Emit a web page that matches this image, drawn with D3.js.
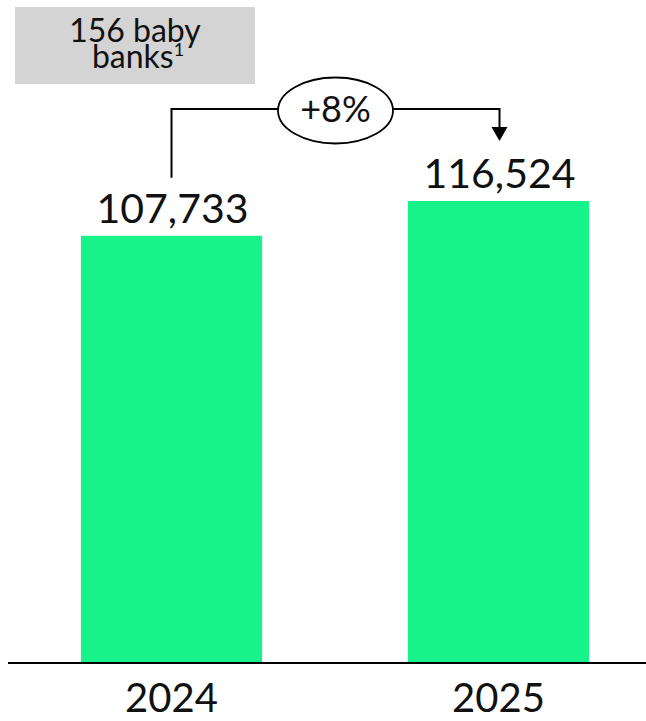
<!DOCTYPE html>
<html>
<head>
<meta charset="utf-8">
<script src="https://cdn.jsdelivr.net/npm/d3@7"></script>
<style>
  html, body { margin: 0; padding: 0; background: #ffffff; }
  svg { display: block; }
</style>
</head>
<body>
<div id="chart"></div>
<script>
// ---- data ----
const categories = ["2024", "2025"];
const values = [107733, 116524];
const growthLabel = "+8%";
const noteLine1 = "156 baby";
const noteLine2 = "banks";
const noteSup = "1";

// ---- layout ----
const W = 646, H = 721;
const FONT = "Lato, 'Open Sans', 'DejaVu Sans', sans-serif";
const BAR = "#17f28b";

const svg = d3.select("#chart").append("svg")
  .attr("width", W).attr("height", H);

const x = d3.scaleBand()
  .domain(categories)
  .range([8, 662])
  .paddingInner(0.446)
  .paddingOuter(0.223);

const y = d3.scaleLinear()
  .domain([0, d3.max(values)])
  .range([662, 201]);

const data = categories.map((c, i) => ({ c, v: values[i] }));

// bars
svg.selectAll("rect.bar").data(data).join("rect")
  .attr("class", "bar")
  .attr("x", d => x(d.c))
  .attr("width", x.bandwidth())
  .attr("y", d => y(d.v))
  .attr("height", d => y(0) - y(d.v))
  .attr("fill", BAR);

// baseline axis
const xAxis = d3.axisBottom(x).tickSize(0).tickPadding(0);
const gx = svg.append("g")
  .attr("transform", `translate(0,${y(0) + 1})`)
  .call(xAxis);
gx.select(".domain").attr("d", `M8,0H646`).attr("stroke", "#000").attr("stroke-width", 2.2);
gx.selectAll(".tick text")
  .attr("font-family", FONT)
  .attr("font-size", 40)
  .attr("fill", "#111")
  .attr("y", 49)
  .attr("dy", null);

// value labels
const fmt = d3.format(",");
svg.selectAll("text.val").data(data).join("text")
  .attr("class", "val")
  .attr("x", d => x(d.c) + x.bandwidth() / 2 + 1)
  .attr("y", d => y(d.v) - 13)
  .attr("text-anchor", "middle")
  .attr("font-family", FONT)
  .attr("font-size", 41)
  .attr("fill", "#111")
  .text(d => fmt(d.v));

// growth connector
const x0 = x(categories[0]) + x.bandwidth() / 2;
const x1 = x(categories[1]) + x.bandwidth() / 2 + 1;
const yTop = Math.min(y(values[0]), y(values[1])) - 92;
const yStart = y(values[0]) - 58;
const yEnd = y(values[1]) - 60;

svg.append("path")
  .attr("d", `M${x0},${yStart}V${yTop}H${x1}V${yEnd - 13}`)
  .attr("fill", "none")
  .attr("stroke", "#000")
  .attr("stroke-width", 2);

svg.append("path")
  .attr("d", `M${x1 - 8},${yEnd - 14}L${x1 + 8},${yEnd - 14}L${x1},${yEnd}Z`)
  .attr("fill", "#000");

const cx = (x0 + x1) / 2;
svg.append("ellipse")
  .attr("cx", cx).attr("cy", yTop + 1.5)
  .attr("rx", 57.5).attr("ry", 33)
  .attr("fill", "#fff")
  .attr("stroke", "#000")
  .attr("stroke-width", 1.8);

svg.append("text")
  .attr("x", cx).attr("y", yTop + 13)
  .attr("text-anchor", "middle")
  .attr("font-family", FONT)
  .attr("font-size", 36)
  .attr("fill", "#111")
  .text(growthLabel);

// note box
svg.append("rect")
  .attr("x", 15).attr("y", 7)
  .attr("width", 240).attr("height", 77)
  .attr("fill", "#d4d4d4");

const note = svg.append("text")
  .attr("text-anchor", "middle")
  .attr("font-family", FONT)
  .attr("font-size", 32)
  .attr("fill", "#111");
note.append("tspan").attr("x", 135).attr("y", 42).text(noteLine1);
note.append("tspan").attr("x", 138).attr("y", 68).text(noteLine2)
  .append("tspan").attr("font-size", 18).attr("dy", -12).text(noteSup);
</script>
</body>
</html>
